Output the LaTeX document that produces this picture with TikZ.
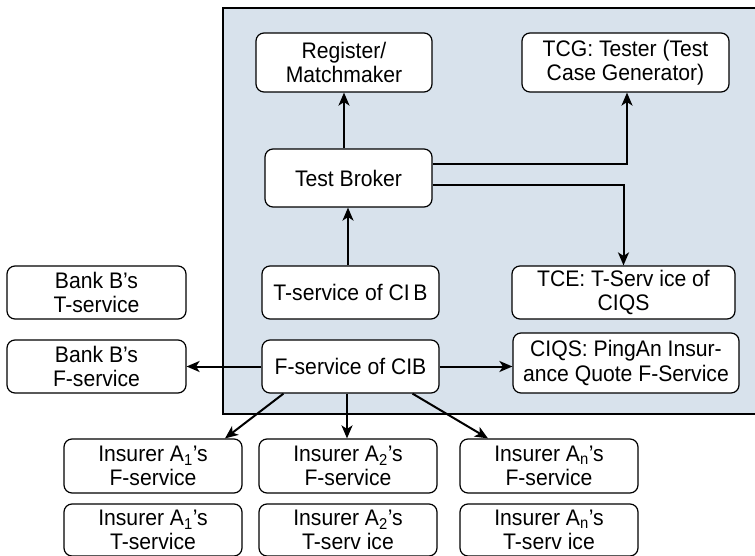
\documentclass[tikz,border=0pt]{standalone}
\usepackage{fontspec}
\setmainfont{Liberation Sans}[FakeStretch=0.94]
\usetikzlibrary{arrows.meta}
\definecolor{panelfill}{HTML}{D8E2EC}
\begin{document}
\begin{tikzpicture}[x=1pt,y=-1pt,
  box/.style={draw, line width=1.2pt, rounded corners=8pt, fill=white,
    align=center, inner sep=0pt, font=\fontsize{22.5}{24.5}\selectfont},
  arr/.style={line width=2pt, -{Stealth[length=13pt,width=11pt,inset=3.5pt]}}]
\useasboundingbox (0,0) rectangle (755,556);
% shaded panel behind the CIB test services
\draw[fill=panelfill, line width=1.6pt] (223,8) rectangle (762,414);

% nodes inside the panel
\node[box, minimum width=176pt, minimum height=59pt] (reg) at (344,62.5) {Register/\\Matchmaker};
\node[box, minimum width=207pt, minimum height=59pt] (tcg) at (625.5,62.5) {TCG: Tester (Test\\Case Generator)};
\node[box, minimum width=167pt, minimum height=58pt] (broker) at (348.5,178) {Test Broker};
\node[box, minimum width=177pt, minimum height=53pt] (tcib) at (350.5,292.5) {T-service of CI\,B};
\node[box, minimum width=177pt, minimum height=53pt] (fcib) at (350.5,366.5) {F-service of CIB};
\node[box, minimum width=223pt, minimum height=53pt] (tce) at (623.5,292.5) {TCE: T-Serv ice of\\CIQS};
\node[box, minimum width=226pt, minimum height=60pt] (ciqs) at (626,363) {CIQS: PingAn Insur-\\ance Quote F-Service};

% Bank B services
\node[box, minimum width=179pt, minimum height=53pt] (bbt) at (96.5,292.5) {Bank B’s\\T-service};
\node[box, minimum width=179pt, minimum height=53pt] (bbf) at (96.5,366.5) {Bank B’s\\F-service};

% insurer services
\node[box, minimum width=178pt, minimum height=54pt] (a1f) at (153,466) {Insurer A\textsubscript{1}’s\\F-service};
\node[box, minimum width=178pt, minimum height=54pt] (a2f) at (348,466) {Insurer A\textsubscript{2}’s\\F-service};
\node[box, minimum width=178pt, minimum height=54pt] (anf) at (549,466) {Insurer A\textsubscript{n}’s\\F-service};
\node[box, minimum width=178pt, minimum height=52pt] (a1t) at (153,530) {Insurer A\textsubscript{1}’s\\T-service};
\node[box, minimum width=178pt, minimum height=52pt] (a2t) at (348,530) {Insurer A\textsubscript{2}’s\\T-serv ice};
\node[box, minimum width=178pt, minimum height=52pt] (ant) at (549,530) {Insurer A\textsubscript{n}’s\\T-serv ice};

% connectors
\draw[arr] (reg.south |- broker.north) -- (reg.south);
\draw[arr] ([xshift=-2.5pt]tcib.north) -- ([xshift=-2.5pt]tcib.north |- broker.south);
\draw[arr] ([yshift=14pt]broker.east) -| ([xshift=1.5pt]tcg.south);
\draw[arr] ([yshift=-7pt]broker.east) -| (tce.north);
\draw[arr] (fcib.west) -- (bbf.east);
\draw[arr] (fcib.east) -- (fcib.east -| ciqs.west);
\draw[arr] ([xshift=-67pt]fcib.south) -- ([xshift=72pt]a1f.north);
\draw[arr] ([xshift=-1pt]a2f.north |- fcib.south) -- ([xshift=-1pt]a2f.north);
\draw[arr] ([xshift=62pt]fcib.south) -- ([xshift=-61pt]anf.north);
\end{tikzpicture}
\end{document}
